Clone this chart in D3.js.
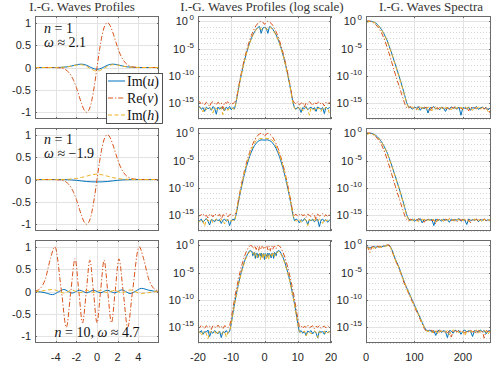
<!DOCTYPE html>
<html><head><meta charset="utf-8">
<script src="https://cdn.jsdelivr.net/npm/d3@7/dist/d3.min.js"></script>
<style>body{margin:0;background:#fff}svg{display:block}</style>
</head><body>
<svg id="c" width="496" height="374"></svg>
<script>
// ---------------- DATA ----------------
const titles = ["I.-G. Waves Profiles", "I.-G. Waves Profiles (log scale)", "I.-G. Waves Spectra"];
const legendLabels = [["Im", "u"], ["Re", "v"], ["Im", "h"]];
const xTicksLin = [-4, -2, 0, 2, 4];
const yTicksLin = [-1, -0.5, 0, 0.5, 1];
const yTickLabelsLin = ["-1", "-0.5", "0", "0.5", "1"];
const xTicksLog = [-20, -10, 0, 10, 20];
const xTicksSpec = [0, 100, 200];
const yTicksLogExp = [0, -5, -10, -15];

// column 1: linear profiles (x, value)
const xV1 = [-6,-4.5,-4,-3.5,-3,-2.75,-2.5,-2.25,-2,-1.75,-1.5,-1.25,-1,-0.75,-0.5,-0.25,0,0.25,0.5,0.75,1,1.25,1.5,1.75,2,2.25,2.5,2.75,3,3.5,4,4.5,6];
const reV1 = [0,-0.0003,-0.0022,-0.0126,-0.055,-0.103,-0.181,-0.295,-0.446,-0.624,-0.803,-0.944,-1,-0.933,-0.728,-0.4,0,0.4,0.728,0.933,1,0.944,0.803,0.624,0.446,0.295,0.181,0.103,0.055,0.0126,0.0022,0.0003,0];
const xS1 = [-6,-4,-3.5,-3,-2.5,-2,-1.75,-1.5,-1.25,-1,-0.75,-0.5,-0.25,0,0.25,0.5,0.75,1,1.25,1.5,1.75,2,2.5,3,3.5,4,6];
const imU1 = [0,0,0.003,0.012,0.031,0.06,0.071,0.075,0.068,0.049,0.021,-0.009,-0.031,-0.04,-0.031,-0.009,0.021,0.049,0.068,0.075,0.071,0.06,0.031,0.012,0.003,0,0];
const imH1 = [0,0,0.003,0.011,0.029,0.054,0.062,0.062,0.049,0.024,-0.009,-0.044,-0.07,-0.08,-0.07,-0.044,-0.009,0.024,0.049,0.062,0.062,0.054,0.029,0.011,0.003,0,0];
const reV2 = [0,-0.0003,-0.0022,-0.0126,-0.055,-0.103,-0.181,-0.295,-0.446,-0.624,-0.803,-0.944,-1,-0.933,-0.728,-0.4,0,0.4,0.728,0.933,1,0.944,0.803,0.624,0.446,0.295,0.181,0.103,0.055,0.0126,0.0022,0.0003,0];
const xS2 = [-6,-4,-3,-2.5,-2,-1.5,-1,-0.5,0,0.5,1,1.5,2,2.5,3,4,6];
const imU2 = [0,0,-0.003,-0.008,-0.018,-0.032,-0.045,-0.052,-0.055,-0.052,-0.045,-0.032,-0.018,-0.008,-0.003,0,0];
const imH2 = [0,0,0.003,0.009,0.022,0.045,0.075,0.105,0.12,0.105,0.075,0.045,0.022,0.009,0.003,0,0];
const xV3 = [-6,-5.5,-5,-4.5,-4.08,-3.436,-2.97,-2.533,-2.12,-1.757,-1.4,-1.037,-0.69,-0.343,0,0.343,0.69,1.037,1.4,1.757,2.12,2.533,2.97,3.436,4.08,4.5,5,5.5,6];
const reV3 = [0.011,0.067,0.28,0.74,1,0,-0.8,0,0.73,0,-0.7,0,0.7,0,-0.7,0,0.7,0,-0.7,0,0.73,0,-0.8,0,1,0.74,0.28,0.067,0.011];
const xS3 = [-6,-5.5,-5,-4.3,-3.67,-3.2,-2.78,-2.4,-2.03,-1.67,-1.33,-0.99,-0.66,-0.33,0,0.33,0.66,0.99,1.33,1.67,2.03,2.4,2.78,3.2,3.67,4.3,5,5.5,6];
const imU3 = [0,-0.008,-0.03,-0.07,0,0.045,0,-0.035,0,0.03,0,-0.03,0,0.03,0,-0.03,0,0.03,0,-0.03,0,0.035,0,-0.045,0,0.07,0.03,0.008,0];
const imH3 = [0,0.006,0.025,0.045,0,-0.035,0,0.03,0,-0.025,0,0.025,0,-0.02,0,0.02,0,-0.025,0,0.025,0,-0.03,0,0.035,0,-0.045,-0.025,-0.006,0];

// column 2: log10 of |profiles| on x grid
const xGridA = [-20,-19.5,-19,-18.5,-18,-17.5,-17,-16.5,-16,-15.5,-15,-14.5,-14,-13.5,-13,-12.5,-12,-11.5,-11,-10.5,-10,-9.5,-9,-8.5,-8,-7.5,-7,-6.5,-6,-5.5,-5,-4.5,-4,-3.5,-3,-2.5,-2,-1.5,-1,-0.5,0,0.5,1,1.5,2,2.5,3,3.5,4,4.5,5,5.5,6,6.5,7,7.5,8,8.5,9,9.5,10,10.5,11,11.5,12,12.5,13,13.5,14,14.5,15,15.5,16,16.5,17,17.5,18,18.5,19,19.5,20];
const logV1 = [-15.1,-14.8,-15.3,-15.0,-15.4,-14.9,-15.2,-15.7,-15.0,-14.8,-15.1,-15.4,-14.9,-15.2,-15.0,-16.1,-14.9,-15.1,-14.8,-15.3,-15.0,-15.2,-14.9,
 -14.54,-12.78,-11.12,-9.58,-8.15,-6.82,-5.61,-4.51,-3.53,-2.66,-1.90,-1.26,-0.74,-0.35,-0.10,0.02,-0.12,-0.55,-0.12,0.02,-0.10,-0.35,-0.74,-1.26,-1.90,-2.66,-3.53,-4.51,-5.61,-6.82,-8.15,-9.58,-11.12,-12.78,-14.54,
 -15.0,-15.2,-14.8,-15.4,-15.1,-14.9,-15.8,-15.0,-15.3,-14.8,-15.1,-15.5,-14.9,-15.2,-15.0,-14.8,-15.3,-15.1,-15.6,-14.9,-15.2,-15.0,-15.1];
const logU1 = [-16.0,-15.7,-16.2,-15.9,-16.6,-15.8,-16.1,-15.9,-16.4,-15.7,-16.0,-17.1,-15.8,-16.2,-15.9,-16.0,-16.5,-15.8,-16.1,-15.7,-16.3,-15.9,-16.1,
 -14.75,-13.01,-11.38,-9.87,-8.47,-7.18,-6.01,-4.95,-4.01,-3.19,-2.49,-1.92,-1.45,-1.1,-0.95,-2.2,-1.2,-1.1,-1.2,-2.2,-0.95,-1.1,-1.45,-1.92,-2.49,-3.19,-4.01,-4.95,-6.01,-7.18,-8.47,-9.87,-11.38,-13.01,-14.75,
 -15.9,-16.2,-15.8,-16.0,-16.8,-15.9,-16.1,-15.7,-16.3,-16.0,-15.8,-16.2,-15.9,-16.6,-15.8,-16.0,-16.2,-15.9,-17.0,-15.8,-16.1,-15.9,-16.0];
const logH1 = [-16.2,-15.9,-16.0,-16.7,-15.9,-16.3,-16.0,-15.8,-16.2,-16.9,-15.9,-16.1,-16.3,-15.8,-16.0,-17.2,-16.0,-15.9,-16.4,-16.0,-15.8,-16.1,-16.2,
 -14.85,-13.1,-11.48,-9.97,-8.57,-7.28,-6.1,-5.05,-4.1,-3.28,-2.58,-2.0,-1.55,-1.2,-1.05,-1.5,-1.35,-1.15,-1.35,-1.5,-1.05,-1.2,-1.55,-2.0,-2.58,-3.28,-4.1,-5.05,-6.1,-7.28,-8.57,-9.97,-11.48,-13.1,-14.85,
 -16.0,-16.3,-15.9,-16.1,-15.8,-16.5,-16.0,-15.9,-16.2,-17.3,-15.9,-16.0,-16.4,-15.8,-16.1,-16.0,-16.6,-15.9,-16.2,-15.8,-16.0,-16.9,-16.1];
const logV2 = [-14.9,-15.2,-15.0,-14.8,-15.3,-15.1,-15.6,-14.9,-15.0,-15.4,-14.8,-15.1,-15.2,-14.9,-15.9,-15.0,-15.1,-14.8,-15.4,-15.0,-14.9,-15.2,-15.0,
 -14.54,-12.78,-11.12,-9.58,-8.15,-6.82,-5.61,-4.51,-3.53,-2.66,-1.90,-1.26,-0.74,-0.35,-0.10,0.02,-0.12,-0.55,-0.12,0.02,-0.10,-0.35,-0.74,-1.26,-1.90,-2.66,-3.53,-4.51,-5.61,-6.82,-8.15,-9.58,-11.12,-12.78,-14.54,
 -15.1,-14.9,-15.3,-15.0,-14.8,-15.2,-15.0,-15.5,-14.9,-15.1,-15.3,-14.8,-15.0,-16.0,-14.9,-15.2,-15.1,-14.8,-15.3,-15.0,-15.4,-14.9,-15.1];
const logU2 = [-15.9,-16.1,-15.8,-16.4,-16.0,-15.7,-16.2,-16.9,-15.9,-16.0,-16.3,-15.8,-16.1,-15.9,-16.6,-16.0,-15.8,-16.2,-15.9,-17.0,-16.1,-15.8,-16.0,
 -14.9,-13.2,-11.6,-10.1,-8.75,-7.45,-6.3,-5.25,-4.3,-3.5,-2.8,-2.25,-1.8,-1.5,-1.3,-1.2,-1.2,-1.25,-1.2,-1.2,-1.3,-1.5,-1.8,-2.25,-2.8,-3.5,-4.3,-5.25,-6.3,-7.45,-8.75,-10.1,-11.6,-13.2,-14.9,
 -16.1,-15.8,-16.0,-16.5,-15.9,-16.2,-15.7,-16.0,-16.8,-15.9,-16.1,-15.8,-16.3,-16.0,-15.9,-17.2,-16.0,-15.8,-16.2,-15.9,-16.4,-16.0,-15.9];
const logH2 = [-16.0,-16.3,-15.9,-16.1,-17.1,-15.8,-16.0,-16.2,-15.9,-16.5,-16.0,-15.8,-16.1,-16.3,-15.9,-16.0,-16.7,-15.9,-16.1,-15.8,-16.2,-16.0,-16.1,
 -14.8,-13.05,-11.4,-9.85,-8.45,-7.15,-5.95,-4.9,-3.95,-3.1,-2.4,-1.8,-1.35,-1.12,-1.0,-0.95,-0.92,-0.9,-0.92,-0.95,-1.0,-1.12,-1.35,-1.8,-2.4,-3.1,-3.95,-4.9,-5.95,-7.15,-8.45,-9.85,-11.4,-13.05,-14.8,
 -15.9,-16.2,-16.0,-15.8,-16.4,-16.1,-15.9,-16.0,-17.0,-15.8,-16.2,-16.0,-15.9,-16.3,-16.1,-15.8,-16.0,-16.6,-15.9,-16.1,-16.0,-16.3,-15.9];
const xGridB = [-20,-19.5,-19,-18.5,-18,-17.5,-17,-16.5,-16,-15.5,-15,-14.5,-14,-13.5,-13,-12.5,-12,-11.5,-11,-10.5,-10,-9.5,-9,-8.5,-8,-7.5,-7,-6.5,-6,-5.5,
 -5,-4.75,-4.5,-4.25,-4,-3.75,-3.5,-3.25,-3,-2.75,-2.5,-2.25,-2,-1.75,-1.5,-1.25,-1,-0.75,-0.5,-0.25,0,0.25,0.5,0.75,1,1.25,1.5,1.75,2,2.25,2.5,2.75,3,3.25,3.5,3.75,4,4.25,4.5,4.75,5,
 5.5,6,6.5,7,7.5,8,8.5,9,9.5,10,10.5,11,11.5,12,12.5,13,13.5,14,14.5,15,15.5,16,16.5,17,17.5,18,18.5,19,19.5,20];
const logV3 = [-14.9,-15.2,-14.7,-15.0,-15.3,-14.8,-15.1,-14.9,-15.5,-14.8,-15.0,-15.2,-14.7,-15.1,-14.9,-15.4,-14.8,-15.0,-15.2,-14.9,
 -13.44,-11.58,-9.8,-8.17,-6.65,-5.27,-4.03,-2.93,-1.96,-1.17,
 -0.55,-0.3,-0.13,-0.02,0,-0.12,-0.6,-0.45,-0.1,-0.3,-0.75,-0.15,-0.3,-0.9,-0.2,-0.25,-0.7,-0.16,-0.34,-0.55,-0.16,-0.5,-0.34,-0.16,-0.8,-0.25,-0.2,-1.0,-0.3,-0.15,-0.7,-0.3,-0.1,-0.45,-0.6,-0.12,0,-0.02,-0.13,-0.3,-0.55,
 -1.17,-1.96,-2.93,-4.03,-5.27,-6.65,-8.17,-9.8,-11.58,-13.44,
 -15.0,-14.8,-15.3,-14.9,-15.1,-14.7,-15.2,-15.0,-14.8,-15.4,-14.9,-15.1,-14.8,-15.3,-15.0,-14.9,-15.2,-14.8,-15.1,-15.0];
const logU3 = [-15.8,-16.1,-15.7,-16.4,-15.9,-16.0,-15.6,-16.8,-15.9,-16.2,-15.7,-16.0,-16.3,-15.8,-17.0,-15.9,-16.1,-15.7,-16.2,-15.9,
 -14.4,-12.5,-10.7,-9.1,-7.6,-6.2,-5.0,-3.9,-2.9,-2.1,
 -1.5,-1.2,-1.0,-0.95,-1.0,-1.2,-1.9,-1.4,-1.3,-2.4,-1.5,-1.4,-2.3,-1.6,-1.5,-1.9,-1.4,-2.2,-1.7,-1.5,-2.6,-1.5,-1.7,-2.2,-1.4,-1.9,-1.5,-1.6,-2.3,-1.4,-1.5,-2.4,-1.3,-1.4,-1.9,-1.2,-1.0,-0.95,-1.0,-1.2,-1.5,
 -2.1,-2.9,-3.9,-5.0,-6.2,-7.6,-9.1,-10.7,-12.5,-14.4,
 -16.0,-15.7,-16.2,-15.9,-16.6,-15.8,-16.0,-15.7,-16.3,-15.9,-16.1,-17.1,-15.8,-16.0,-15.9,-16.4,-15.8,-16.1,-15.9,-16.0];
const logH3 = [-16.1,-15.9,-16.6,-16.0,-15.8,-16.3,-17.2,-15.9,-16.0,-16.2,-15.8,-16.5,-16.0,-15.9,-16.3,-16.1,-15.8,-16.9,-16.0,-15.9,
 -14.6,-12.7,-10.9,-9.3,-7.8,-6.4,-5.2,-4.1,-3.1,-2.3,
 -1.7,-1.4,-1.2,-1.1,-1.2,-1.4,-1.5,-1.3,-2.1,-1.6,-1.4,-2.2,-1.6,-1.7,-1.5,-2.6,-1.7,-1.5,-2.5,-1.6,-2.0,-1.6,-2.5,-1.5,-1.7,-2.6,-1.5,-1.7,-1.6,-2.2,-1.4,-1.6,-2.1,-1.3,-1.5,-1.4,-1.2,-1.1,-1.2,-1.4,-1.7,
 -2.3,-3.1,-4.1,-5.2,-6.4,-7.8,-9.3,-10.9,-12.7,-14.6,
 -15.9,-16.2,-16.0,-15.8,-16.7,-16.0,-15.9,-16.3,-16.1,-15.8,-16.0,-17.0,-15.9,-16.2,-16.0,-15.8,-16.4,-16.0,-15.9,-16.1];

// column 3: log10 spectra on wavenumber grid
const kGrid = [0,4,8,12,16,20,24,28,32,36,40,44,48,52,56,60,64,68,72,76,80,84,88,92,96,100,104,108,112,116,120,124,128,132,136,140,144,148,152,156,160,164,168,172,176,180,184,188,192,196,200,204,208,212,216,220,224,228,232,236,240,244,248,252,256];
const specU1 = [-0.1,-0.05,0.05,0.02,-0.1,-0.3,-0.6,-1.0,-1.5,-2.1,-2.8,-3.6,-4.6,-5.6,-6.7,-7.8,-8.9,-10.0,-11.2,-12.4,-13.7,-15.0,-15.8,
 -15.9,-16.2,-15.8,-16.0,-15.7,-16.4,-15.9,-16.1,-15.8,-16.9,-15.9,-16.0,-15.7,-16.2,-15.9,-16.3,-15.8,-16.0,-16.6,-15.9,-16.1,-15.8,-16.0,-15.9,-16.2,-15.8,-17.3,-15.9,-16.0,-16.1,-15.8,-16.4,-15.9,-16.0,-15.7,-16.2,-16.0,-15.8,-16.1,-15.9,-16.3,-16.0];
const specV1 = [0.05,0.1,0.05,-0.1,-0.3,-0.6,-1.0,-1.5,-2.1,-2.9,-3.8,-4.9,-6.0,-7.2,-8.4,-9.6,-10.8,-11.8,-13.0,-14.1,-15.2,-16.0,-15.9,
 -15.7,-16.0,-15.8,-16.3,-15.9,-15.7,-16.1,-15.8,-16.0,-15.9,-16.6,-15.8,-16.0,-15.7,-16.2,-15.9,-16.0,-15.8,-16.1,-15.9,-16.4,-15.8,-16.0,-15.7,-16.1,-15.9,-16.0,-16.2,-15.8,-15.9,-16.5,-15.8,-16.0,-15.9,-16.1,-15.8,-16.0,-15.9,-16.2,-15.8,-16.0,-16.9];
const specH1 = [-0.15,-0.1,0,0,-0.15,-0.35,-0.65,-1.05,-1.55,-2.2,-2.9,-3.7,-4.7,-5.7,-6.8,-7.9,-9.0,-10.1,-11.3,-12.5,-13.8,-15.1,-15.9,
 -16.0,-15.8,-16.1,-15.9,-16.3,-15.8,-16.0,-15.9,-16.2,-15.8,-16.0,-16.5,-15.9,-16.1,-15.8,-16.0,-15.9,-16.2,-15.8,-16.0,-15.9,-16.3,-15.8,-16.1,-15.9,-16.0,-15.8,-16.2,-15.9,-16.0,-15.8,-16.1,-16.4,-15.9,-16.0,-15.8,-16.2,-15.9,-16.0,-16.1,-16.6,-17.1];
const specU2 = [-0.1,-0.05,0.05,0,-0.15,-0.35,-0.65,-1.05,-1.55,-2.15,-2.85,-3.65,-4.6,-5.6,-6.7,-7.8,-8.9,-10.0,-11.2,-12.4,-13.7,-15.0,-15.8,
 -16.0,-15.8,-16.2,-15.9,-16.0,-15.7,-16.5,-15.9,-16.1,-15.8,-16.0,-15.9,-17.0,-15.8,-16.1,-15.9,-16.2,-15.8,-16.0,-15.9,-16.4,-15.8,-16.1,-15.9,-16.0,-15.7,-16.2,-15.9,-16.0,-16.8,-15.8,-16.1,-15.9,-16.0,-15.8,-16.3,-15.9,-16.0,-15.8,-16.1,-15.9,-16.2];
const specV2 = [0.05,0.1,0.05,-0.1,-0.3,-0.6,-1.0,-1.5,-2.1,-2.9,-3.8,-4.9,-6.0,-7.2,-8.4,-9.6,-10.8,-11.8,-13.0,-14.1,-15.2,-15.9,-16.2,
 -15.8,-16.0,-15.9,-16.2,-15.7,-16.0,-15.8,-16.4,-15.9,-16.0,-15.8,-16.1,-15.9,-16.7,-15.8,-16.0,-15.9,-16.2,-15.8,-16.0,-15.7,-16.1,-15.9,-16.0,-16.3,-15.8,-16.0,-15.9,-16.1,-15.8,-16.0,-16.5,-15.9,-16.0,-15.8,-16.2,-15.9,-16.0,-15.8,-16.1,-16.0,-15.9];
const specH2 = [-0.15,-0.1,0,-0.05,-0.2,-0.4,-0.7,-1.1,-1.6,-2.2,-2.9,-3.7,-4.7,-5.7,-6.8,-7.9,-9.0,-10.1,-11.3,-12.5,-13.8,-15.1,-15.9,
 -15.9,-16.1,-15.8,-16.0,-16.3,-15.9,-16.0,-15.8,-16.2,-15.9,-16.0,-15.8,-16.1,-16.5,-15.9,-16.0,-15.8,-16.2,-15.9,-16.0,-15.8,-16.1,-15.9,-16.3,-15.8,-16.0,-15.9,-16.1,-15.8,-16.0,-16.2,-15.9,-16.0,-15.8,-16.1,-15.9,-16.0,-16.4,-15.8,-16.0,-15.9,-16.1];
const specU3 = [-0.4,-0.3,-0.5,-0.3,-0.2,-0.35,-0.25,-0.2,-0.3,-0.15,-0.1,0.0,0.05,-0.5,-1.4,-2.4,-3.2,-4.0,-5.0,-6.0,-7.0,-7.8,-8.6,-9.4,-10.2,-11.0,-11.8,-12.6,-13.4,-14.2,-15.0,-15.6,
 -15.8,-15.6,-16.0,-15.7,-16.6,-15.8,-15.6,-16.1,-15.7,-15.9,-17.0,-15.7,-15.8,-16.2,-15.6,-15.9,-15.7,-16.4,-15.8,-15.6,-16.0,-15.7,-15.9,-16.8,-15.7,-15.8,-16.0,-15.6,-15.9,-15.7,-16.3,-15.8,-15.7];
const specV3 = [-0.2,-0.4,-1.3,-0.3,-0.2,-0.6,-0.1,-0.3,-0.2,-0.1,0,0.1,0.05,-0.7,-1.6,-2.7,-3.4,-4.3,-5.2,-6.2,-7.3,-8.0,-8.9,-9.6,-10.5,-11.3,-12.1,-12.8,-13.7,-14.5,-15.3,-15.8,
 -15.7,-15.9,-15.6,-16.2,-15.8,-15.7,-16.0,-15.6,-15.9,-15.8,-16.1,-15.7,-16.9,-15.8,-15.7,-16.0,-15.6,-15.9,-15.8,-16.2,-15.7,-15.9,-15.6,-16.0,-15.8,-16.3,-15.7,-15.9,-15.8,-17.1,-15.7,-15.9,-15.8];
const specH3 = [-0.5,-0.45,-0.6,-0.4,-0.5,-0.3,-0.4,-0.3,-0.35,-0.2,-0.15,-0.05,0,-0.6,-1.5,-2.5,-3.3,-4.1,-5.1,-6.1,-6.9,-7.9,-8.7,-9.5,-10.3,-11.1,-11.9,-12.7,-13.5,-14.3,-15.1,-15.7,
 -15.9,-15.7,-16.1,-15.8,-15.6,-16.3,-15.7,-15.9,-15.8,-16.0,-15.7,-16.5,-15.8,-15.6,-15.9,-15.8,-16.1,-15.7,-15.9,-16.7,-15.8,-15.7,-16.0,-15.8,-15.9,-15.6,-16.2,-15.8,-15.9,-15.7,-16.0,-16.4,-15.8];

const annotations = [
  [["i","n"],["r"," = 1"]],
  [["i","ω"],["r"," ≈ 2.1"]],
  [["i","n"],["r"," = 1"]],
  [["i","ω"],["r"," ≈ −1.9"]],
  [["i","n"],["r"," = 10, "],["i","ω"],["r"," ≈ 4.7"]]
];

// ---------------- LAYOUT / STYLE ----------------
const colors = {u: "#0072BD", v: "#D95319", h: "#EDB120"};
const dashes = {u: null, v: "5,2,1.2,2", h: "4,2.5"};
const colX = [[35, 159], [198, 331], [366, 491]];
const rowY = [[16, 119], [128, 231], [240, 343]];
const svg = d3.select("#c");
const axisCol = "#262626";
const gridCol = "#e3e3e3";
const sans = "'Liberation Sans', Arial, sans-serif";
const serif = "'Liberation Serif', 'Times New Roman', serif";

function check(a, b, name) { if (a.length !== b.length) throw new Error("length mismatch " + name + " " + a.length + " vs " + b.length); }

function panel(ci, ri, xDom, yDom, xTicks, yTicks, isLog, series, curve) {
  const [x0, x1] = colX[ci], [y0, y1] = rowY[ri];
  const xs = d3.scaleLinear().domain(xDom).range([x0, x1]);
  const ys = d3.scaleLinear().domain(yDom).range([y1, y0]);
  const g = svg.append("g");
  g.append("rect").attr("x", x0).attr("y", y0).attr("width", x1 - x0).attr("height", y1 - y0).attr("fill", "#fff");
  const gg = g.append("g").attr("shape-rendering", "crispEdges");
  xTicks.forEach(t => { const px = Math.round(xs(t)) + 0.5; if (px > x0 + 1 && px < x1 - 1) gg.append("line").attr("x1", px).attr("x2", px).attr("y1", y0).attr("y2", y1).attr("stroke", gridCol); });
  if (isLog) {
    d3.range(Math.ceil(yDom[0]), Math.floor(yDom[1]) + 1).forEach(e => {
      if (yTicks.includes(e)) return;
      const py = Math.round(ys(e)) + 0.5;
      gg.append("line").attr("x1", x0).attr("x2", x1).attr("y1", py).attr("y2", py).attr("stroke", "#d6d6d6").attr("stroke-dasharray", "1,2");
    });
  }
  yTicks.forEach(t => { const py = Math.round(ys(t)) + 0.5; gg.append("line").attr("x1", x0).attr("x2", x1).attr("y1", py).attr("y2", py).attr("stroke", gridCol); });
  const clipId = "clip" + ci + ri;
  g.append("clipPath").attr("id", clipId).append("rect").attr("x", x0).attr("y", y0).attr("width", x1 - x0).attr("height", y1 - y0);
  const dg = g.append("g").attr("clip-path", "url(#" + clipId + ")");
  series.forEach(s => {
    check(s.x, s.y, s.name);
    const pts = s.x.map((xv, i) => [xv, s.y[i]]);
    const line = d3.line().x(d => xs(d[0])).y(d => ys(d[1])).curve(curve);
    dg.append("path").attr("d", line(pts)).attr("fill", "none").attr("stroke", colors[s.k]).attr("stroke-width", 1)
      .attr("stroke-dasharray", dashes[s.k]).attr("stroke-linejoin", "round");
  });
  const fg = g.append("g").attr("shape-rendering", "crispEdges").attr("stroke-width", 1);
  fg.append("rect").attr("x", x0 + 0.5).attr("y", y0 + 0.5).attr("width", x1 - x0 - 1).attr("height", y1 - y0 - 1).attr("fill", "none").attr("stroke", "#6b6b6b");
  const tl = 2;
  xTicks.forEach(t => { const px = Math.round(xs(t)) + 0.5;
    fg.append("line").attr("x1", px).attr("x2", px).attr("y1", y1).attr("y2", y1 - tl).attr("stroke", "#6b6b6b");
    fg.append("line").attr("x1", px).attr("x2", px).attr("y1", y0).attr("y2", y0 + tl).attr("stroke", "#6b6b6b"); });
  yTicks.forEach(t => { const py = Math.round(ys(t)) + 0.5;
    fg.append("line").attr("x1", x0).attr("x2", x0 + tl).attr("y1", py).attr("y2", py).attr("stroke", "#6b6b6b");
    fg.append("line").attr("x1", x1).attr("x2", x1 - tl).attr("y1", py).attr("y2", py).attr("stroke", "#6b6b6b"); });
  const lg = g.append("g").attr("fill", axisCol).attr("font-family", sans);
  yTicks.forEach((t, i) => {
    const tx = lg.append("text").attr("x", x0 - 4).attr("y", ys(t) + 4).attr("text-anchor", "end").attr("font-size", 11);
    if (isLog) {
      tx.append("tspan").text("10");
      tx.append("tspan").attr("dy", -5).attr("font-size", 8).text("\u2009" + (t === 0 ? "0" : String(t)));
    } else tx.text(yTickLabelsLin[i]);
  });
  if (ri === 2) {
    xTicks.forEach(t => lg.append("text").attr("x", xs(t)).attr("y", 361).attr("text-anchor", "middle").attr("font-size", 11).text(String(t)));
  }
  return {xs, ys, g};
}

const lin = d3.curveMonotoneX;
const logDom = [-18, 1];
panel(0, 0, [-6, 6], [-1.15, 1.15], xTicksLin, yTicksLin, false, [
  {k: "u", x: xS1, y: imU1, name: "u1"}, {k: "v", x: xV1, y: reV1, name: "v1"}, {k: "h", x: xS1, y: imH1, name: "h1"}], lin);
panel(0, 1, [-6, 6], [-1.15, 1.15], xTicksLin, yTicksLin, false, [
  {k: "u", x: xS2, y: imU2, name: "u2"}, {k: "v", x: xV1, y: reV2, name: "v2"}, {k: "h", x: xS2, y: imH2, name: "h2"}], lin);
panel(0, 2, [-6, 6], [-1.15, 1.15], xTicksLin, yTicksLin, false, [
  {k: "u", x: xS3, y: imU3, name: "u3"}, {k: "v", x: xV3, y: reV3, name: "v3"}, {k: "h", x: xS3, y: imH3, name: "h3"}], lin);
panel(1, 0, [-20, 20], logDom, xTicksLog, yTicksLogExp, true, [
  {k: "u", x: xGridA, y: logU1, name: "lu1"}, {k: "v", x: xGridA, y: logV1, name: "lv1"}, {k: "h", x: xGridA, y: logH1, name: "lh1"}], d3.curveLinear);
panel(1, 1, [-20, 20], logDom, xTicksLog, yTicksLogExp, true, [
  {k: "u", x: xGridA, y: logU2, name: "lu2"}, {k: "v", x: xGridA, y: logV2, name: "lv2"}, {k: "h", x: xGridA, y: logH2, name: "lh2"}], d3.curveLinear);
panel(1, 2, [-20, 20], logDom, xTicksLog, yTicksLogExp, true, [
  {k: "u", x: xGridB, y: logU3, name: "lu3"}, {k: "v", x: xGridB, y: logV3, name: "lv3"}, {k: "h", x: xGridB, y: logH3, name: "lh3"}], d3.curveLinear);
panel(2, 0, [0, 258], logDom, xTicksSpec, yTicksLogExp, true, [
  {k: "u", x: kGrid, y: specU1, name: "su1"}, {k: "v", x: kGrid, y: specV1, name: "sv1"}, {k: "h", x: kGrid, y: specH1, name: "sh1"}], d3.curveLinear);
panel(2, 1, [0, 258], logDom, xTicksSpec, yTicksLogExp, true, [
  {k: "u", x: kGrid, y: specU2, name: "su2"}, {k: "v", x: kGrid, y: specV2, name: "sv2"}, {k: "h", x: kGrid, y: specH2, name: "sh2"}], d3.curveLinear);
panel(2, 2, [0, 258], logDom, xTicksSpec, yTicksLogExp, true, [
  {k: "u", x: kGrid, y: specU3, name: "su3"}, {k: "v", x: kGrid, y: specV3, name: "sv3"}, {k: "h", x: kGrid, y: specH3, name: "sh3"}], d3.curveLinear);

// titles
const titleX = [82, 262, 431];
titles.forEach((t, i) => svg.append("text").attr("x", titleX[i]).attr("y", 11).attr("text-anchor", "middle")
  .attr("font-family", serif).attr("font-size", 13).attr("fill", "#333").text(t));

// annotations
function rich(x, y, parts, anchor) {
  const t = svg.append("text").attr("x", x).attr("y", y).attr("font-family", serif).attr("font-size", 14).attr("fill", "#111").attr("text-anchor", anchor || "start");
  parts.forEach(p => t.append("tspan").attr("font-style", p[0] === "i" ? "italic" : "normal").text(p[1]));
}
rich(44, 33, annotations[0]);
rich(44, 47, annotations[1]);
rich(44, 144, annotations[2]);
rich(44, 158, annotations[3]);
rich(97, 337, annotations[4], "middle");

// legend
const lgd = svg.append("g");
lgd.append("rect").attr("x", 106.5).attr("y", 73.5).attr("width", 56).attr("height", 50).attr("fill", "#fff").attr("stroke", "#262626").attr("stroke-width", 0.8);
["u", "v", "h"].forEach((k, i) => {
  const cy = 81 + i * 17;
  lgd.append("line").attr("x1", 108).attr("x2", 125).attr("y1", cy).attr("y2", cy).attr("stroke", colors[k]).attr("stroke-width", 1).attr("stroke-dasharray", dashes[k]);
  const t = lgd.append("text").attr("x", 127).attr("y", cy + 4.5).attr("font-family", serif).attr("font-size", 14).attr("fill", "#111");
  t.append("tspan").text(legendLabels[i][0] + "(");
  t.append("tspan").attr("font-style", "italic").text(legendLabels[i][1]);
  t.append("tspan").text(")");
});
</script>
</body></html>
